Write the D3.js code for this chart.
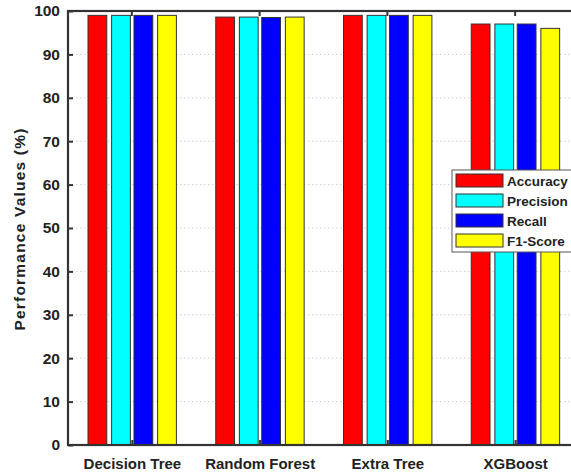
<!DOCTYPE html>
<html><head><meta charset="utf-8">
<script src="https://cdn.jsdelivr.net/npm/d3@7"></script>
<style>body{margin:0;background:#fff;overflow:hidden}svg{display:block}text{font-family:"Liberation Sans",Arial,sans-serif;font-weight:bold;fill:#222}</style>
</head><body><svg id="c" width="571" height="472"></svg>
<script>
const categories = ["Decision Tree","Random Forest","Extra Tree","XGBoost"];
const seriesNames = ["Accuracy","Precision","Recall","F1-Score"];
const seriesColors = ["#ff0000","#00ffff","#0000ff","#ffff00"];
const accuracy  = [99, 98.6, 99, 97];
const precision = [99, 98.6, 99, 97];
const recall    = [99, 98.5, 99, 97];
const f1score   = [99, 98.6, 99, 96];
const yTicks = [0,10,20,30,40,50,60,70,80,90,100];
const series = [accuracy, precision, recall, f1score];

const svg = d3.select("#c");
const L=68, R=579, T=11, B=445;
const x = d3.scaleLinear().domain([0.5, 4.5]).range([L, R]);
const y = d3.scaleLinear().domain([0, 100]).range([B, T]);
const offsets = [-0.27, -0.085, 0.09, 0.275];
const bw = 0.147;
const FONT = "'Liberation Sans',Arial,sans-serif";

// grid
svg.append("g").selectAll("line").data(yTicks.slice(1,-1)).join("line")
  .attr("x1", L).attr("x2", R).attr("y1", d=>y(d)).attr("y2", d=>y(d))
  .attr("stroke", "#d0d0d0").attr("stroke-width", 1).attr("stroke-dasharray", "1.5,2.5");

// bars
const bars = [];
categories.forEach((c,i)=>series.forEach((s,j)=>bars.push({i,j,v:s[i]})));
svg.append("g").selectAll("rect").data(bars).join("rect")
  .attr("x", d=>x(d.i+1+offsets[d.j]-bw/2))
  .attr("width", d=>x(bw)-x(0))
  .attr("y", d=>y(d.v)).attr("height", d=>B-y(d.v))
  .attr("fill", d=>seriesColors[d.j]).attr("stroke", "#333").attr("stroke-width", 1);

// frame
svg.append("rect").attr("x",L).attr("y",T).attr("width",R-L).attr("height",B-T)
  .attr("fill","none").attr("stroke","#333").attr("stroke-width",2.2);

// y axis
const ya = svg.append("g").attr("transform",`translate(${L},0)`)
  .call(d3.axisLeft(y).tickValues(yTicks).tickSizeInner(-5).tickSizeOuter(0).tickPadding(8));
ya.select(".domain").remove();
ya.selectAll("line").attr("stroke","#333").attr("stroke-width",2);
ya.selectAll("text").style("font-size","15.5px").attr("fill","#222").style("font-family",FONT).style("font-weight","bold");

// x axis
const xa = svg.append("g").attr("transform",`translate(0,${B})`)
  .call(d3.axisBottom(x).tickValues([1,2,3,4]).tickFormat((d)=>categories[d-1]).tickSizeInner(-5).tickSizeOuter(0).tickPadding(13));
xa.select(".domain").remove();
xa.selectAll("line").attr("stroke","#333").attr("stroke-width",2);
xa.selectAll("text").style("font-size","15px").attr("fill","#222").style("font-family",FONT).style("font-weight","bold");

// top ticks
svg.append("g").selectAll("line").data([1,2,3,4]).join("line")
  .attr("x1",d=>x(d)).attr("x2",d=>x(d)).attr("y1",T).attr("y2",T+5)
  .attr("stroke","#333").attr("stroke-width",2);

// y label
svg.append("text").attr("transform",`translate(25,${(T+B)/2+1}) rotate(-90)`)
  .attr("text-anchor","middle").style("font-size","15.5px").style("letter-spacing","1.2px").text("Performance Values (%)");

// legend
const lg = svg.append("g").attr("transform","translate(452,170)");
lg.append("rect").attr("width",130).attr("height",82).attr("fill","#fff").attr("stroke","#555").attr("stroke-width",1);
seriesNames.forEach((n,j)=>{
  lg.append("rect").attr("x",4).attr("y",4+j*20).attr("width",47).attr("height",13)
    .attr("fill",seriesColors[j]).attr("stroke","#333").attr("stroke-width",1);
  lg.append("text").attr("x",55).attr("y",15.5+j*20).style("font-size","13.5px").text(n);
});
</script></body></html>
